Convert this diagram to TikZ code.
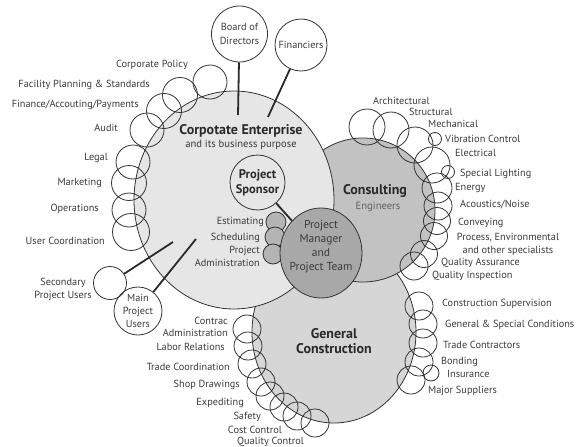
\documentclass[tikz,border=0pt]{standalone}
\usepackage{fontspec}
\setmainfont{PT Sans}
\usetikzlibrary{shapes.geometric}
\definecolor{linec}{HTML}{333333}
\definecolor{textc}{HTML}{3A3A3A}
\definecolor{titlec}{HTML}{2A2A2A}
\definecolor{corpfill}{HTML}{E6E6E6}
\definecolor{cefill}{HTML}{C2C2C2}
\definecolor{gcfill}{HTML}{D6D6D6}
\definecolor{pmfill}{HTML}{A8A8A8}
\definecolor{sgfill}{HTML}{B4B4B4}
\begin{document}
\begin{tikzpicture}[x=1pt,y=-1pt,
  sc/.style={circle, draw=linec, line width=0.8pt, inner sep=0pt, minimum size=#1},
  big/.style={draw=linec, line width=0.8pt, inner sep=0pt},
  lab/.style={font=\fontsize{10.3}{11}\selectfont, text=textc, inner sep=0pt, text height=1.5ex, text depth=0.25ex},
  mlab/.style={font=\fontsize{10.3}{12.5}\selectfont, text=textc, inner sep=0pt},
  ttl/.style={font=\fontsize{14}{16}\selectfont\bfseries, text=titlec, inner sep=0pt},
  sub/.style={font=\fontsize{10.6}{11}\selectfont, text=textc, inner sep=0pt},
  conn/.style={draw=titlec, line width=1.8pt}
]
\useasboundingbox (0,0) rectangle (576,447);

% big shapes
\node[big, ellipse, fill=gcfill, minimum width=164, minimum height=182] (gc) at (334,332) {};
\node[big, circle, fill=cefill, minimum size=144] (ce) at (363,210) {};
\node[big, ellipse, fill=corpfill, minimum width=200, minimum height=218] (corp) at (234,200) {};
\node[sc=20, fill=sgfill] (sg1) at (276,222) {};
\node[sc=20, fill=sgfill] (sg2) at (275,237) {};
\node[sc=20, fill=sgfill] (sg3) at (273,254) {};
\node[big, ellipse, fill=pmfill, minimum width=82, minimum height=90] (pm) at (321,253) {};

% titles
\node[ttl] (corpt) at (241,131) {Corpotate Enterprise};
\node[sub] (corps) at (241,144.5) {and its business purpose};
\node[ttl] (cet) at (375,191) {Consulting};
\node[sub, text=textc!80] (ces) at (378,207) {Engineers};
\node[ttl, align=center, font=\fontsize{14}{15}\selectfont\bfseries] (gct) at (334,341.5) {General\\Construction};
\node[font=\fontsize{11.5}{14}\selectfont, text=textc, inner sep=0pt, align=center] (pmt) at (321,246.5) {Project\\Manager\\and\\Project Team};

% sponsor
\node[sc=55, font=\fontsize{12.5}{15}\selectfont\bfseries, text=titlec, align=center] (ps) at (257.5,182.5) {Project\\Sponsor};
\draw[conn] (ps) -- (pm);

% labels near small grey circles
\node[lab, anchor=east] (le) at (264,221) {Estimating};
\node[lab, anchor=east] (ls) at (260,237) {Scheduling};
\node[mlab, anchor=east, align=right, font=\fontsize{10.3}{13}\selectfont] (lpa) at (260,256.5) {Project\\Administration};

% board and financiers
\node[sc=56, mlab, align=center, font=\fontsize{10.3}{14}\selectfont] (bod) at (239.5,34) {Board of\\Directors};
\coordinate (bodend) at (238,115);
\draw[conn] (bod) -- (bodend);
\node[sc=52, lab] (fin) at (301,45) {Financiers};
\coordinate (finend) at (268,117);
\draw[conn] (fin) -- (finend);

% users
\node[sc=33] (spu) at (110,283) {};
\node[mlab, align=center, font=\fontsize{10.3}{13}\selectfont] (spul) at (63,289.5) {Secondary\\Project Users};
\coordinate (spuend) at (173,242);
\draw[conn] (spu) -- (spuend);
\node[sc=48, mlab, align=center, font=\fontsize{10.3}{13}\selectfont] (mpu) at (138,311) {Main\\Project\\Users};
\coordinate (mpuend) at (196,239);
\draw[conn] (mpu) -- (mpuend);

% corporate arc circles
\node[sc=34] (c1) at (210,82) {};
\node[sc=35] (c2) at (180,95) {};
\node[sc=35] (c3) at (164,111) {};
\node[sc=34] (c4) at (147,130) {};
\node[sc=34] (c5) at (133,162) {};
\node[sc=35] (c6) at (129,183) {};
\node[sc=34] (c7) at (129,210) {};
\node[sc=37] (c8) at (131,232) {};
\node[lab, anchor=east] (l1) at (188,64) {Corporate Policy};
\node[lab, anchor=east] (l2) at (150,84) {Facility Planning \& Standards};
\node[lab, anchor=east] (l3) at (139,104) {Finance/Accouting/Payments};
\node[lab, anchor=east] (l4) at (118,128) {Audit};
\node[lab, anchor=east] (l5) at (108,157) {Legal};
\node[lab, anchor=east] (l6) at (102,182) {Marketing};
\node[lab, anchor=east] (l7) at (99,208) {Operations};
\node[lab, anchor=east] (l8) at (105,241) {User Coordination};

% consulting arc circles
\node[sc=36] (e1) at (367,127) {};
\node[sc=36] (e2) at (391,130) {};
\node[sc=36] (e3) at (415,145) {};
\node[sc=13] (e4) at (435,139) {};
\node[sc=36] (e5) at (432,165) {};
\node[sc=13] (e6) at (448,172) {};
\node[sc=30] (e7) at (437,188) {};
\node[sc=28] (e8) at (438,206) {};
\node[sc=27] (e9) at (437,221) {};
\node[sc=27] (e10) at (434,236) {};
\node[sc=27] (e11) at (424,254) {};
\node[sc=28] (e12) at (414,266) {};
\node[lab, anchor=west] (r1) at (373,101) {Architectural};
\node[lab, anchor=west] (r2) at (409,112) {Structural};
\node[lab, anchor=west] (r3) at (428,124) {Mechanical};
\node[lab, anchor=west] (r4) at (445,139) {Vibration Control};
\node[lab, anchor=west] (r5) at (455,153) {Electrical};
\node[lab, anchor=west] (r6) at (460,173) {Special Lighting};
\node[lab, anchor=west] (r7) at (455,187) {Energy};
\node[lab, anchor=west] (r8) at (460,204) {Acoustics/Noise};
\node[lab, anchor=west] (r9) at (458,222) {Conveying};
\node[mlab, align=center, font=\fontsize{10.3}{13}\selectfont] (r10) at (508,244) {Process, Environmental\\and other specialists};
\node[lab, anchor=west] (r11) at (441,262) {Quality Assurance};
\node[lab, anchor=west] (r12) at (432,275) {Quality Inspection};

% general construction right circles
\node[sc=28] (g1) at (419,306) {};
\node[sc=28] (g2) at (423,324) {};
\node[sc=28] (g3) at (423,343) {};
\node[sc=28] (g4) at (419,362) {};
\node[sc=16] (g5) at (431,373) {};
\node[sc=28] (g6) at (411,380) {};
\node[lab, anchor=west] (q1) at (442,303) {Construction Supervision};
\node[lab, anchor=west] (q2) at (445,324) {General \& Special Conditions};
\node[lab, anchor=west] (q3) at (443,345) {Trade Contractors};
\node[lab, anchor=west] (q4) at (441,361) {Bonding};
\node[lab, anchor=west] (q5) at (447,374) {Insurance};
\node[lab, anchor=west] (q6) at (428,390) {Major Suppliers};

% general construction left/bottom circles
\node[sc=28] (h1) at (247,329) {};
\node[sc=28] (h2) at (248,346) {};
\node[sc=28] (h3) at (252,364) {};
\node[sc=28] (h4) at (261,382) {};
\node[sc=28] (h5) at (270,396) {};
\node[sc=28] (h6) at (284,407) {};
\node[sc=28] (h7) at (297,416) {};
\node[sc=28] (h8) at (315,423) {};
\node[mlab, anchor=east, align=right, font=\fontsize{10.3}{12}\selectfont] (k1) at (228,327) {Contrac\\Administration};
\node[lab, anchor=east] (k2) at (225,347) {Labor Relations};
\node[lab, anchor=east] (k3) at (230,367) {Trade Coordination};
\node[lab, anchor=east] (k4) at (240,384) {Shop Drawings};
\node[lab, anchor=east] (k5) at (244,402) {Expediting};
\node[lab, anchor=east] (k6) at (261,416) {Safety};
\node[lab, anchor=east] (k7) at (282,430) {Cost Control};
\node[lab, anchor=east] (k8) at (304,441) {Quality Control};
\end{tikzpicture}
\end{document}
